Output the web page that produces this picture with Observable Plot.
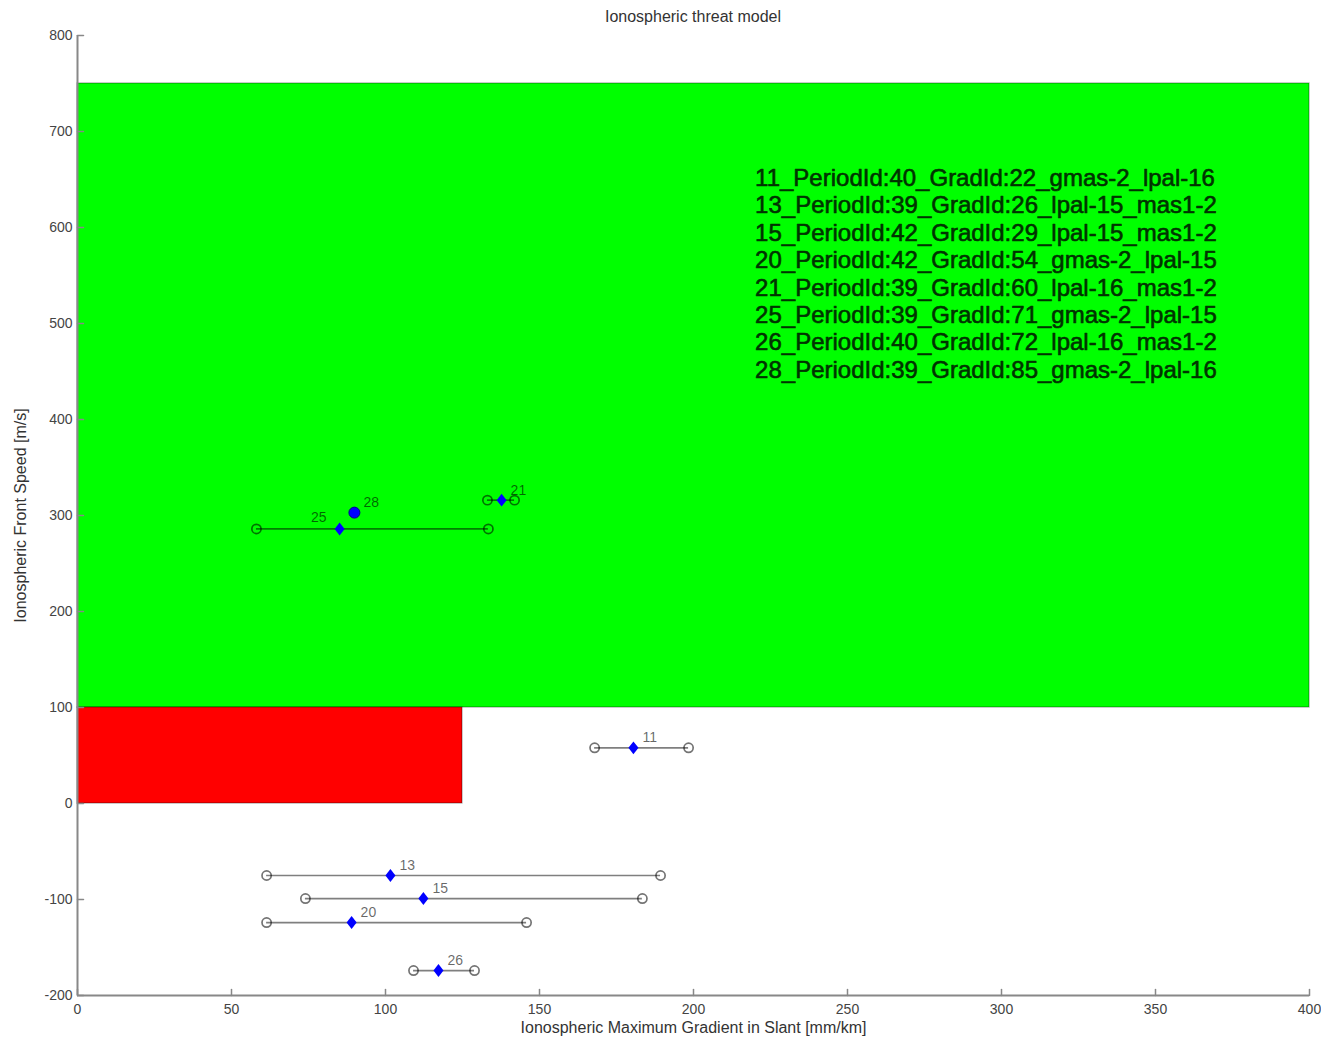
<!DOCTYPE html>
<html>
<head>
<meta charset="utf-8">
<script src="https://cdn.jsdelivr.net/npm/d3@7"></script>
<script src="https://cdn.jsdelivr.net/npm/@observablehq/plot@0.6"></script>
<style>
  body { margin: 0; background: #fff; font-family: "Liberation Sans", Arial, sans-serif; }
  #title { width: 1232px; margin-left: 77px; height: 16px; padding-top: 9px; line-height: 16px; text-align: center; font-size: 16px; color: #333; box-sizing: content-box; }
  #chart svg { display: block; }
</style>
</head>
<body>
<div id="title">Ionospheric threat model</div>
<div id="chart"></div>
<script>
// Events: id, gradient estimate (mm/km) with its low/high bounds, and front speed (m/s)
const eventIds   = ["11", "13", "15", "20", "21", "25", "26", "28"];
const gradient   = [180.5, 101.6, 112.3, 89.0, 137.7, 85.1, 117.2, 89.9];
const gradLow    = [167.9, 61.4, 74.0, 61.4, 133.1, 58.1, 109.1, null];
const gradHigh   = [198.4, 189.3, 183.4, 145.8, 141.9, 133.4, 128.9, null];
const frontSpeed = [58, -75, -99, -124, 316, 286, -174, 303];
const labelSide  = ["right", "right", "right", "right", "right", "left", "right", "right"];
const markerKind = ["diamond", "diamond", "diamond", "diamond", "diamond", "diamond", "diamond", "circle"];

// Threat-model zones (gradient range x speed range)
const zoneGradMin  = [0, 0];
const zoneGradMax  = [400, 125];
const zoneSpeedMin = [100, 0];
const zoneSpeedMax = [750, 100];
const zoneColor    = ["#00ff00", "#ff0000"];

// Event descriptions
const eventNotes = [
  "11_PeriodId:40_GradId:22_gmas-2_lpal-16",
  "13_PeriodId:39_GradId:26_lpal-15_mas1-2",
  "15_PeriodId:42_GradId:29_lpal-15_mas1-2",
  "20_PeriodId:42_GradId:54_gmas-2_lpal-15",
  "21_PeriodId:39_GradId:60_lpal-16_mas1-2",
  "25_PeriodId:39_GradId:71_gmas-2_lpal-15",
  "26_PeriodId:40_GradId:72_lpal-16_mas1-2",
  "28_PeriodId:39_GradId:85_gmas-2_lpal-16"
];

const xTicks = [0, 50, 100, 150, 200, 250, 300, 350, 400];
const yTicks = [-200, -100, 0, 100, 200, 300, 400, 500, 600, 700, 800];

const zones = zoneColor.map((c, i) => ({
  x1: zoneGradMin[i], x2: zoneGradMax[i], y1: zoneSpeedMin[i], y2: zoneSpeedMax[i], color: c
}));
const events = eventIds.map((id, i) => ({
  id, x: gradient[i], lo: gradLow[i], hi: gradHigh[i], y: frontSpeed[i],
  side: labelSide[i], kind: markerKind[i]
}));
const ranged = events.filter(d => d.lo != null);
const ends = ranged.flatMap(d => [{x: d.lo, y: d.y}, {x: d.hi, y: d.y}]);

// Straight tick stroke for inward axis ticks
const tickShape = { draw(context, l) { context.moveTo(0, 0); context.lineTo(0, -l); } };
// Diamond marker, slightly taller than wide (size is the symbol area)
const diamondShape = {
  draw(context, size) {
    const h = Math.sqrt(size / Math.PI) * 1.15, w = h * 0.78;
    context.moveTo(0, -h); context.lineTo(w, 0); context.lineTo(0, h); context.lineTo(-w, 0); context.closePath();
  }
};
const axisFont = 14;
const fontFamily = '"Liberation Sans", Arial, sans-serif';

const chart = Plot.plot({
  width: 1321,
  height: 1014,
  marginLeft: 77,
  marginRight: 12,
  marginTop: 10,
  marginBottom: 44,
  style: { fontFamily, background: "#fff" },
  x: { domain: [0, 400] },
  y: { domain: [-200, 800] },
  color: { type: "identity" },
  marks: [
    Plot.rect(zones, { x1: "x1", x2: "x2", y1: "y1", y2: "y2", fill: "color",
      stroke: "#000", strokeOpacity: 0.35, strokeWidth: 1.2 }),
    // Gradient range of each event
    Plot.ruleY(ranged, { x1: "lo", x2: "hi", y: "y", stroke: "#000", strokeOpacity: 0.5, strokeWidth: 1.7 }),
    Plot.dot(ends, { x: "x", y: "y", r: 4.6, stroke: "#000", strokeOpacity: 0.55, strokeWidth: 1.7, fill: "none" }),
    Plot.dot(events.filter(d => d.kind === "diamond"), { x: "x", y: "y", symbol: diamondShape, r: 5.6, fill: "#0000ff" }),
    Plot.dot(events.filter(d => d.kind === "circle"), { x: "x", y: "y", r: 5.5, fill: "#0000ff", stroke: "#00008a", strokeWidth: 1 }),
    Plot.text(events.filter(d => d.side === "right"), {
      x: "x", y: "y", text: "id", textAnchor: "start", dx: 9, dy: -10,
      fontSize: 14, fill: "#000", fillOpacity: 0.6
    }),
    Plot.text(events.filter(d => d.side === "left"), {
      x: "x", y: "y", text: "id", textAnchor: "end", dx: -13, dy: -11,
      fontSize: 14, fill: "#000", fillOpacity: 0.6
    }),
    // Event descriptions block
    Plot.text([eventNotes.join("\n")], {
      x: 220, y: 552.5, text: d => d, textAnchor: "start", lineAnchor: "middle",
      lineHeight: 1.142, fontSize: 24, fill: "#003300",
      stroke: "#003300", strokeWidth: 0.6
    }),
    // Axis lines and inward ticks
    Plot.ruleX([0], { y1: -200, y2: 800, stroke: "#888", strokeWidth: 2 }),
    Plot.ruleY([-200], { x1: 0, x2: 400, stroke: "#888", strokeWidth: 2 }),
    Plot.vector(xTicks, { x: d => d, y: -200, length: 6, rotate: 0, anchor: "start", shape: tickShape, stroke: "#888", strokeWidth: 1.5 }),
    Plot.vector(yTicks, { x: 0, y: d => d, length: 6, rotate: 90, anchor: "start", shape: tickShape, stroke: "#888", strokeWidth: 1.5 }),
    Plot.axisX({ ticks: xTicks, tickSize: 0, tickPadding: 9, fill: "#444",
      fontSize: axisFont, label: null, tickFormat: d => String(d) }),
    Plot.axisY({ ticks: yTicks, tickSize: 0, tickPadding: 5, fill: "#444",
      fontSize: axisFont, label: null, tickFormat: d => String(d) }),
    Plot.text(["Ionospheric Maximum Gradient in Slant [mm/km]"], {
      frameAnchor: "bottom", dy: 37, text: d => d, fontSize: 16, fill: "#333"
    }),
    Plot.text(["Ionospheric Front Speed [m/s]"], {
      frameAnchor: "left", dx: -57, rotate: -90, textAnchor: "middle", text: d => d, fontSize: 16, fill: "#333"
    })
  ]
});
document.getElementById("chart").appendChild(chart);
</script>
</body>
</html>
